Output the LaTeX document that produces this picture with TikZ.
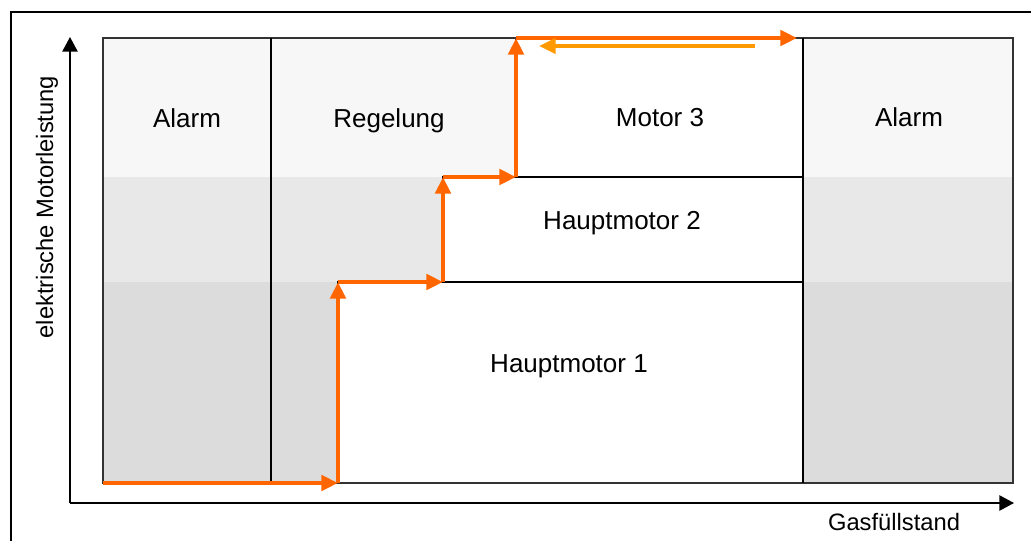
\documentclass[tikz,border=0pt]{standalone}
\usepackage{fontspec}
\setmainfont{Liberation Sans}
\usetikzlibrary{arrows.meta}
\definecolor{bandhi}{HTML}{F7F7F7}
\definecolor{bandmid}{HTML}{E8E8E8}
\definecolor{bandlo}{HTML}{DCDCDC}
\definecolor{stair}{HTML}{FF6600}
\definecolor{back}{HTML}{FF9900}
\definecolor{edge}{HTML}{333333}

\begin{document}
\begin{tikzpicture}[x=0.75pt,y=-0.75pt,
  axis/.style={-{Triangle[length=11pt,width=11.5pt]},line width=1.1pt},
  run/.style={-{Triangle[length=12.5pt,width=11.5pt]},line width=3pt,stair},
  zone/.style={anchor=base,font=\fontsize{19.5}{23}\selectfont},
  ax/.style={anchor=base,font=\fontsize{17.8}{21}\selectfont}]
\useasboundingbox (0,0) rectangle (1031,540);
\draw[line width=1.5pt] (11,545) -- (11,12) -- (1036,12);
\fill[bandhi] (103,38) rectangle (1013,177);
\fill[bandmid] (103,177) rectangle (1013,282);
\fill[bandlo] (103,282) rectangle (1013,483);
\draw[line width=1.4pt,fill=white] (338,282) rectangle (803,483);
\draw[line width=1.4pt,fill=white] (443,177) rectangle (803,282);
\draw[line width=1.4pt,fill=white] (516,38) rectangle (803,177);
\draw[line width=1.4pt,edge] (103,38) rectangle (1013,483);
\draw[line width=1.4pt] (271,38) -- (271,483);
\draw[line width=1.4pt] (803,38) -- (803,483);
\coordinate (o) at (70,503);
\coordinate (ytip) at (70,37);
\coordinate (xtip) at (1014,503);
\draw[axis] (o) -- (ytip);
\draw[axis] (o) -- (xtip);
\node[ax,rotate=90] (ylab) at (53,207) {elektrische Motorleistung};
\node[ax] (xlab) at (894,530) {Gasfüllstand};
\node[zone] (alarmL) at (187,127) {Alarm};
\node[zone] (regel) at (389,127) {Regelung};
\node[zone] (mot3) at (660,126) {Motor 3};
\node[zone] (alarmR) at (909,126) {Alarm};
\node[zone] (hm2) at (622,229) {Hauptmotor 2};
\node[zone] (hm1) at (569,372) {Hauptmotor 1};
\coordinate (s0) at (103,483);
\coordinate (s1) at (338,483);
\coordinate (s2) at (338,282);
\coordinate (s3) at (443,282);
\coordinate (s4) at (443,177);
\coordinate (s5) at (516,177);
\coordinate (s6) at (516,38);
\coordinate (s7) at (797,38);
\coordinate (b0) at (755,46);
\coordinate (b1) at (539,46);
\draw[run] (s0) -- (s1);
\draw[run] (s1) -- (s2);
\draw[run] (s2) -- (s3);
\draw[run] (s3) -- (s4);
\draw[run] (s4) -- (s5);
\draw[run] (s5) -- (s6);
\draw[run] (s6) -- (s7);
\draw[run,back,line width=2.6pt] (b0) -- (b1);
\end{tikzpicture}
\end{document}
